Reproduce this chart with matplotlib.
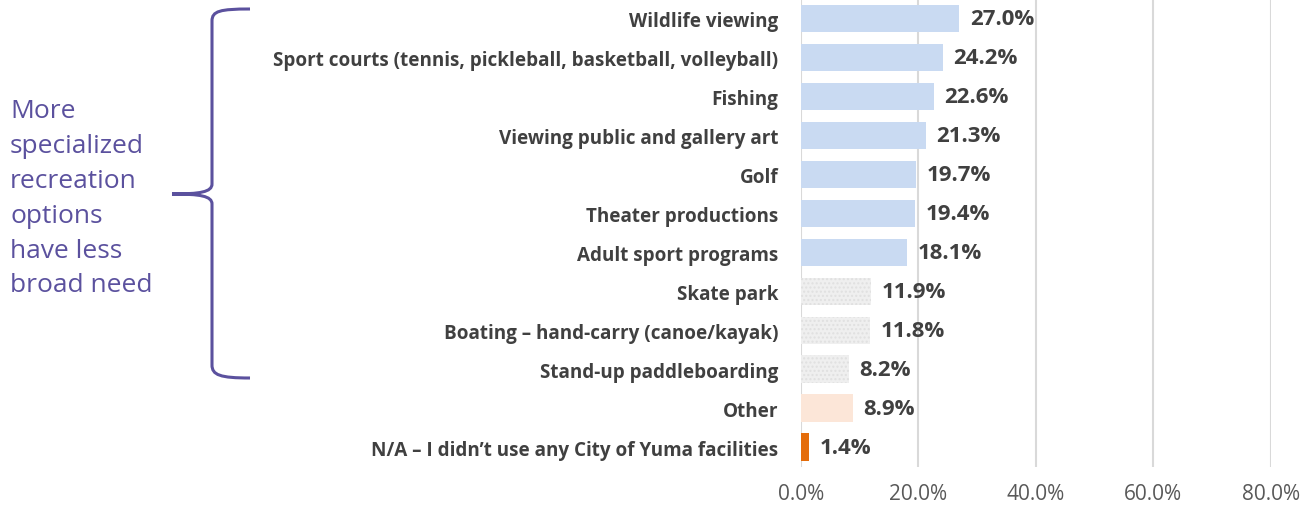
import matplotlib
matplotlib.use("Agg")
import matplotlib.pyplot as plt
from matplotlib.path import Path
from matplotlib.patches import PathPatch

plt.rcParams["font.family"] = ["Open Sans", "DejaVu Sans"]

categories = [
    "Wildlife viewing",
    "Sport courts (tennis, pickleball, basketball, volleyball)",
    "Fishing",
    "Viewing public and gallery art",
    "Golf",
    "Theater productions",
    "Adult sport programs",
    "Skate park",
    "Boating \u2013 hand-carry (canoe/kayak)",
    "Stand-up paddleboarding",
    "Other",
    "N/A \u2013 I didn\u2019t use any City of Yuma facilities",
]
values = [27.0, 24.2, 22.6, 21.3, 19.7, 19.4, 18.1, 11.9, 11.8, 8.2, 8.9, 1.4]
groups = ["blue"] * 7 + ["grey"] * 3 + ["peach", "orange"]
ticks = [0, 20, 40, 60, 80]
note = "More\nspecialized\nrecreation\noptions\nhave less\nbroad need"

colors = {"blue": "#C9DAF2", "grey": "#EFEFEF", "peach": "#FCE6D8", "orange": "#E46C0A"}

fig = plt.figure(figsize=(13.16, 5.10), dpi=100)
ax = fig.add_axes([0.6085, 0.0833, 0.357, 0.9167])

y = list(range(len(categories)))
for yi, v, g in zip(y, values, groups):
    if g == "grey":
        ax.barh(yi, v, height=0.7, color=colors[g], edgecolor="#E0E0E0",
                hatch="....", linewidth=0, zorder=2)
    else:
        ax.barh(yi, v, height=0.7, color=colors[g], linewidth=0, zorder=2)
    ax.text(v + 1.8, yi, f"{v:.1f}%", va="center", ha="left",
            fontsize=16, fontweight="bold", color="#404040")

ax.set_xlim(0, 80)
ax.set_ylim(len(categories) - 0.5, -0.5)
ax.set_xticks(ticks)
ax.set_xticklabels([f"{t:.1f}%" for t in ticks], fontsize=15, color="#595959")
ax.set_yticks(y)
ax.set_yticklabels(categories, fontsize=13.6, fontweight="bold", color="#404040")
ax.tick_params(axis="both", length=0)
ax.tick_params(axis="x", pad=12)
ax.tick_params(axis="y", pad=16)
ax.grid(axis="x", color="#D9D9D9", linewidth=1.5, zorder=0)
for s in ax.spines.values():
    s.set_visible(False)

# curly bracket on the left
bc = "#5B519E"
def fx(px):
    return px / 1316
def fy(py):
    return 1 - py / 510

verts = [
    (fx(250), fy(10)), (fx(220), fy(10)), (fx(212), fy(12)), (fx(212), fy(22)),
    (fx(212), fy(185)),
    (fx(212), fy(193)), (fx(200), fy(195)), (fx(172), fy(195)),
    (fx(200), fy(195)), (fx(212), fy(197)), (fx(212), fy(205)),
    (fx(212), fy(366)),
    (fx(212), fy(376)), (fx(220), fy(379)), (fx(250), fy(379)),
]
codes = [Path.MOVETO, Path.CURVE4, Path.CURVE4, Path.CURVE4,
         Path.LINETO,
         Path.CURVE4, Path.CURVE4, Path.CURVE4,
         Path.CURVE4, Path.CURVE4, Path.CURVE4,
         Path.LINETO,
         Path.CURVE4, Path.CURVE4, Path.CURVE4]
fig.patches.append(PathPatch(Path(verts, codes), transform=fig.transFigure,
                             facecolor="none", edgecolor=bc, linewidth=2.2))

fig.text(fx(10), fy(99), note, ha="left", va="top", fontsize=19,
         color=bc, linespacing=1.52)

fig.savefig("out.png", dpi=100)
